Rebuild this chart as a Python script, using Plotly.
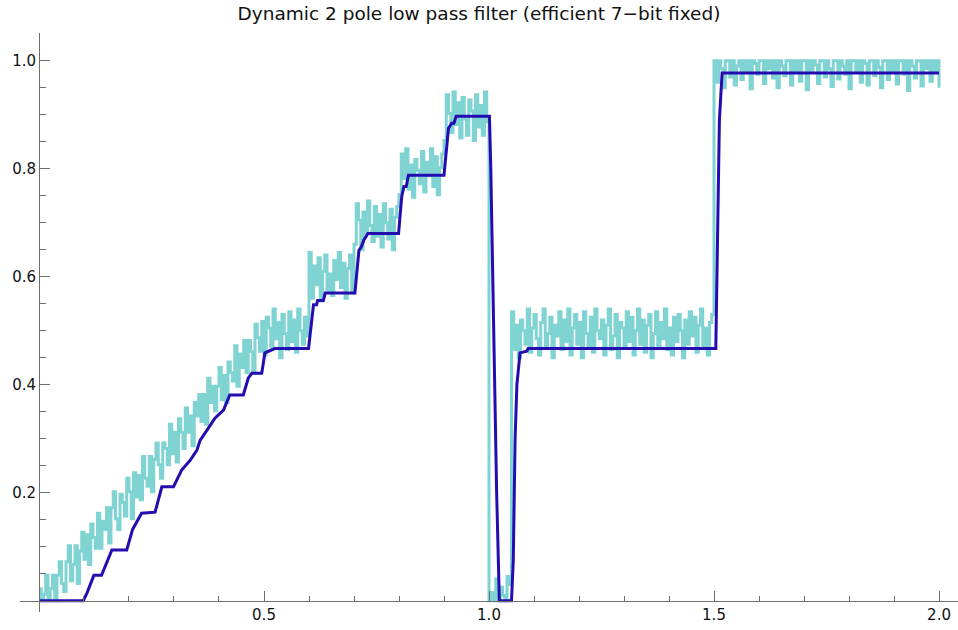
import numpy as np
import plotly.graph_objects as go

# ---- noisy input signal (cyan), values in thousandths, sampled every 0.005 ----
ramp_mv = [22, 0, 12, 47, 0, 22, 47, 0, 47, 72,
           32, 17, 72, 102, 37, 67, 102, 32, 92, 127,
           77, 122, 67, 142, 117, 97, 162, 97, 147, 132,
           172, 107, 172, 202, 152, 132, 197, 182, 157, 227,
           202, 152, 237, 192, 232, 187, 267, 227, 212, 267,
           202, 262, 292, 252, 227, 292, 282, 252, 327, 272,
           312, 257, 337, 312, 282, 357, 312, 342, 287, 367,
           342, 382, 332, 382, 327, 412, 367, 397, 352, 397,
           432, 372, 417, 367, 442, 422, 407, 472, 397, 457,
           432, 482, 422, 482, 462, 422, 512, 487, 462, 517]
step05_mv = [455, 525, 505, 470, 540, 485, 515, 450, 530, 495,
             465, 535, 480, 520, 460, 540, 500, 475, 525, 490]
step06_mv = [645, 560, 620, 585, 635, 555, 610, 640, 575, 605,
             565, 630, 595, 645, 580, 625, 560, 615, 640, 570]
step07_mv = [660, 735, 705, 650, 720, 680, 740, 695, 665, 730,
             675, 715, 655, 735, 700, 670, 725, 650, 710, 730]
step08_mv = [752, 827, 782, 837, 762, 807, 747, 817, 797, 772,
             832, 757, 812, 787, 837, 767, 822, 752, 802, 827]
step09_mv = [852, 937, 902, 867, 942, 882, 922, 857, 932, 892,
             862, 927, 907, 852, 937, 877, 917, 862, 942, 887]
gap10_mv = [0, 15, 0, 40, 0, 25, 10, 0, 45, 30]
step105_mv = [535, 465, 510, 450, 520, 500, 475, 540, 460, 505,
              530, 485, 455, 515, 540, 470, 495, 525, 450, 510,
              490, 535, 465, 520, 480, 540, 455, 505, 530, 475,
              515, 450, 535, 495, 470, 525, 460, 540, 500, 485,
              520, 455, 510, 540, 465, 490, 530, 450, 515, 505,
              470, 535, 480, 525, 455, 500, 540, 475, 520, 460,
              510, 530, 450, 495, 535, 470, 515, 485, 540, 465,
              505, 455, 525, 480, 530, 500, 450, 520, 475, 535,
              490, 525, 460, 510, 540, 470, 505, 455, 515, 530]
step15_mv = [1000, 960, 1000, 985, 950, 1000, 1000, 970, 1000, 955,
             990, 1000, 965, 1000, 980, 1000, 948, 1000, 995, 975,
             1000, 1000, 958, 1000, 985, 1000, 968, 1000, 950, 1000,
             990, 972, 1000, 1000, 955, 1000, 982, 1000, 962, 1000,
             1000, 946, 1000, 978, 1000, 992, 958, 1000, 1000, 970,
             1000, 985, 952, 1000, 1000, 966, 1000, 990, 975, 1000,
             948, 1000, 1000, 980, 1000, 960, 1000, 995, 955, 1000,
             1000, 972, 1000, 988, 950, 1000, 1000, 965, 1000, 982,
             1000, 957, 1000, 1000, 975, 1000, 945, 1000, 990, 968,
             1000, 1000, 953, 1000, 985, 1000, 962, 1000, 978, 1000, 950]
sample_step = 0.005

# ---- filtered output (dark blue), breakpoints ----
filt_x = [0.0, 0.0985, 0.107, 0.122, 0.139, 0.149, 0.162, 0.195, 0.208, 0.228,
          0.258, 0.273, 0.299, 0.317, 0.336, 0.351, 0.358, 0.376, 0.391, 0.410,
          0.424, 0.454, 0.465, 0.473, 0.495, 0.502, 0.524, 0.599, 0.610, 0.617,
          0.619, 0.632, 0.636, 0.702, 0.711, 0.716, 0.722, 0.731, 0.799, 0.806,
          0.811, 0.816, 0.821, 0.900, 0.910, 0.917, 0.922, 0.927, 1.001, 1.004,
          1.010, 1.017, 1.023, 1.050, 1.054, 1.058, 1.062, 1.069, 1.084, 1.087,
          1.504, 1.508, 1.512, 1.518, 2.0]
filt_y = [0.0, 0.0, 0.015, 0.047, 0.047, 0.069, 0.094, 0.094, 0.132, 0.162,
          0.164, 0.211, 0.211, 0.242, 0.260, 0.279, 0.297, 0.319, 0.338, 0.353,
          0.381, 0.381, 0.412, 0.421, 0.421, 0.459, 0.467, 0.467, 0.548, 0.548,
          0.556, 0.556, 0.570, 0.570, 0.649, 0.655, 0.668, 0.680, 0.680, 0.748,
          0.767, 0.767, 0.788, 0.788, 0.875, 0.884, 0.884, 0.897, 0.897, 0.80,
          0.50, 0.20, 0.0, 0.0, 0.075, 0.30, 0.40, 0.459, 0.462, 0.467,
          0.467, 0.70, 0.89, 0.977, 0.977]

x_major = [0.5, 1.0, 1.5, 2.0]
x_minor = [0.1, 0.2, 0.3, 0.4, 0.6, 0.7, 0.8, 0.9, 1.1, 1.2, 1.3, 1.4,
           1.6, 1.7, 1.8, 1.9]
y_major = [0.2, 0.4, 0.6, 0.8, 1.0]
y_minor = [0.05, 0.1, 0.15, 0.25, 0.3, 0.35, 0.45, 0.5, 0.55, 0.65, 0.7,
           0.75, 0.85, 0.9, 0.95, 1.05]

sig_mv = (ramp_mv + step05_mv + step06_mv + step07_mv + step08_mv + step09_mv
          + gap10_mv + step105_mv + step15_mv)
sig_y = np.array(sig_mv) / 1000.0
sig_x = np.arange(len(sig_mv)) * sample_step

CYAN = "rgb(127,211,211)"
BLUE = "rgb(36,12,176)"
AX = "rgb(110,110,110)"
FONT = "DejaVu Sans"

fig = go.Figure()
fig.add_trace(go.Scatter(x=sig_x, y=sig_y, mode="lines",
                         line=dict(color=CYAN, width=3, shape="hv"),
                         hoverinfo="skip"))
fig.add_trace(go.Scatter(x=filt_x, y=filt_y, mode="lines",
                         line=dict(color=BLUE, width=3), hoverinfo="skip"))

W, H = 958, 630
ml, mr, mt, mb = 20, 0, 33, 18
xr = [-0.0422, 2.0422]
yr = [-0.0209, 1.0513]
xpos = (0 - yr[0]) / (yr[1] - yr[0])
ypos = (0 - xr[0]) / (xr[1] - xr[0])

fig.update_layout(
    width=W, height=H,
    margin=dict(l=ml, r=mr, t=mt, b=mb, pad=0, autoexpand=False),
    paper_bgcolor="white", plot_bgcolor="white",
    showlegend=False,
    title=dict(text="Dynamic 2 pole low pass filter (efficient 7\u2212bit fixed)",
               x=0.5, xanchor="center", y=1 - 14 / H, yanchor="middle",
               font=dict(family=FONT, size=18.5, color="#111")),
    xaxis=dict(range=xr, anchor="free", position=xpos, showgrid=False,
               automargin=False,
               zeroline=False, showline=True, linecolor=AX, linewidth=1,
               tickmode="array", tickvals=x_major,
               ticktext=[f"{v:.1f}" for v in x_major],
               ticks="inside", ticklen=10, tickwidth=1, tickcolor=AX,
               tickfont=dict(family=FONT, size=15, color="#111"),
               minor=dict(tickmode="array", tickvals=x_minor, ticks="inside",
                          ticklen=5, tickwidth=1, tickcolor=AX, showgrid=False)),
    yaxis=dict(range=yr, anchor="free", position=ypos, showgrid=False,
               automargin=False,
               zeroline=False, showline=True, linecolor=AX, linewidth=1,
               tickmode="array", tickvals=y_major,
               ticktext=[f"{v:.1f}" for v in y_major],
               ticks="inside", ticklen=10, tickwidth=1, tickcolor=AX,
               tickfont=dict(family=FONT, size=15, color="#111"),
               minor=dict(tickmode="array", tickvals=y_minor, ticks="inside",
                          ticklen=6, tickwidth=1, tickcolor=AX, showgrid=False)),
)

fig.write_html("out.html", config={"displayModeBar": False},
               post_script="document.body.style.margin='0';"
                           "document.body.style.padding='0';"
                           "document.body.style.overflow='hidden';")
